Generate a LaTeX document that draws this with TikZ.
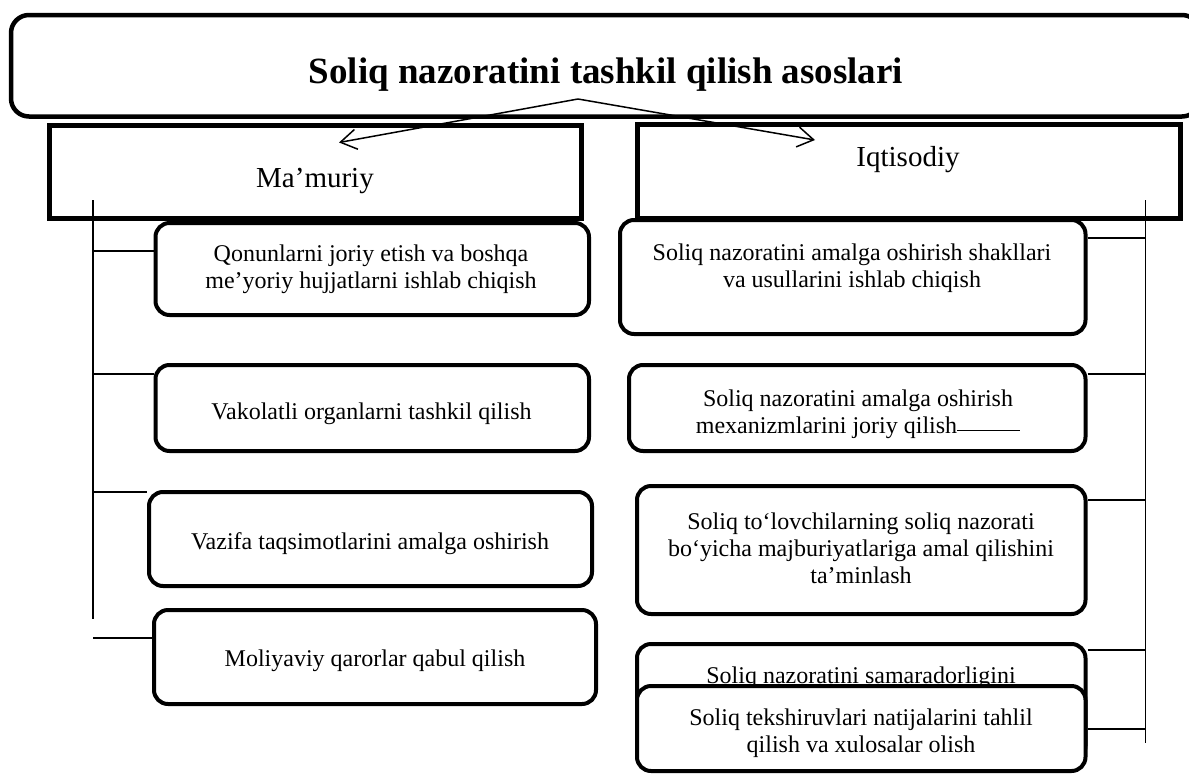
\documentclass[tikz,border=0pt]{standalone}
\usepackage{fontspec}
\setmainfont{Liberation Serif}
\usetikzlibrary{fit,arrows.meta}
\begin{document}
\begin{tikzpicture}[x=1pt,y=-1pt,
  sqbox/.style={draw,line width=5pt,fill=white,inner sep=0pt},
  topbox/.style={draw,line width=4.5pt,fill=white,rounded corners=18pt,inner sep=0pt},
  rbox/.style={draw,line width=4pt,fill=white,rounded corners=14pt,inner sep=0pt},
  txt/.style={inner sep=0pt,align=center,font=\fontsize{24}{27}\selectfont},
  bigtxt/.style={inner sep=0pt,align=center,font=\fontsize{29}{32}\selectfont},
  titletxt/.style={inner sep=0pt,font=\fontsize{37}{40}\selectfont\bfseries},
  conn/.style={line width=1.5pt},
  arr/.style={line width=1.5pt,-{Straight Barb[length=16pt,width=20pt,line width=1.5pt]}}]
\useasboundingbox (0,0) rectangle (1189,774);
% top
\node[topbox,fit={(11,15) (1200,116.5)}] (top) {};
\node[titletxt] (title) at (606,74.5) {Soliq nazoratini tashkil qilish asoslari};
% level 2
\node[sqbox,fit={(49,125) (581,218)}] (mam) {};
\node[bigtxt] (mamt) at (315,181) {Ma’muriy};
\node[sqbox,fit={(637,124) (1180.5,218.5)}] (iqt) {};
\node[bigtxt] (iqtt) at (908,160) {Iqtisodiy};
% left boxes
\node[rbox,fit={(155.5,223) (589,315)}] (L1) {};
\node[txt] (L1t) at (371,269) {Qonunlarni joriy etish va boshqa\\me’yoriy hujjatlarni ishlab chiqish};
\node[rbox,fit={(155.5,365) (589,451)}] (L2) {};
\node[txt] (L2t) at (371.5,414) {Vakolatli organlarni tashkil qilish};
\node[rbox,fit={(149,492) (592,586)}] (L3) {};
\node[txt] (L3t) at (370,544) {Vazifa taqsimotlarini amalga oshirish};
\node[rbox,fit={(154,610) (596,704)}] (L4) {};
\node[txt] (L4t) at (375,661) {Moliyaviy qarorlar qabul qilish};
% right boxes
\node[rbox,fit={(620,220) (1085.5,334)}] (R1) {};
\node[txt] (R1t) at (852,268) {Soliq nazoratini amalga oshirish shakllari\\va usullarini ishlab chiqish};
\node[rbox,fit={(629,365) (1085.5,451)}] (R2) {};
\node[txt] (R2t) at (858,414) {Soliq nazoratini amalga oshirish\\mexanizmlarini joriy qilish\rule[2pt]{63pt}{1.5pt}};
\node[rbox,fit={(637,486) (1085.5,614)}] (R3) {};
\node[txt] (R3t) at (861,548) {Soliq to‘lovchilarning soliq nazorati\\bo‘yicha majburiyatlariga amal qilishini\\ta’minlash};
\node[rbox,fit={(637,644) (1085.5,760)}] (R4) {};
\node[txt] (R4t) at (861,678) {Soliq nazoratini samaradorligini};
\node[rbox,fit={(637,686) (1085.5,771)}] (R5) {};
\node[txt] (R5t) at (861,733) {Soliq tekshiruvlari natijalarini tahlil\\qilish va xulosalar olish};
% left connectors
\coordinate (lt) at (93,200);
\coordinate (lb) at (93,619);
\draw[conn] (lt) -- (lb);
\coordinate (a1) at (93,251);
\coordinate (a2) at (93,374);
\coordinate (a3) at (93,492);
\coordinate (a4) at (93,638);
\draw[conn] (a1) -- (a1 -| L1.west);
\draw[conn] (a2) -- (a2 -| L2.west);
\draw[conn] (a3) -- (a3 -| L3.west);
\draw[conn] (a4) -- (a4 -| L4.west);
% right connectors
\coordinate (rt) at (1145.5,200);
\coordinate (rb) at (1145.5,743);
\draw[conn] (rt) -- (rb);
\coordinate (b1) at (1145.5,238);
\coordinate (b2) at (1145.5,374);
\coordinate (b3) at (1145.5,500);
\coordinate (b4) at (1145.5,650);
\coordinate (b5) at (1145.5,729);
\draw[conn] (b1 -| R1.east) -- (b1);
\draw[conn] (b2 -| R2.east) -- (b2);
\draw[conn] (b3 -| R3.east) -- (b3);
\draw[conn] (b4 -| R4.east) -- (b4);
\draw[conn] (b5 -| R5.east) -- (b5);
% arrows
\coordinate (src) at (578,99);
\coordinate (mtip) at (339,142.5);
\coordinate (itip) at (815,140);
\draw[arr] (src) -- (mtip);
\draw[arr] (src) -- (itip);
\end{tikzpicture}
\end{document}
